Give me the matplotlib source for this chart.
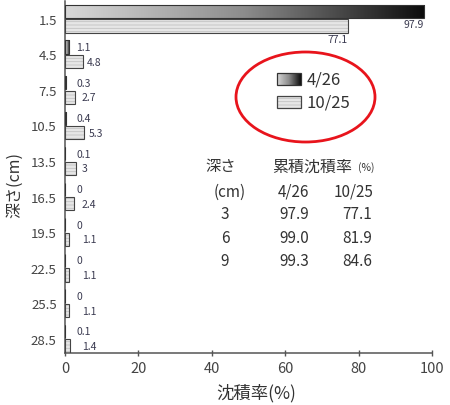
import numpy as np
import matplotlib
matplotlib.use("Agg")
import matplotlib.pyplot as plt
from matplotlib.colors import LinearSegmentedColormap
from matplotlib.patches import Rectangle, Ellipse
from matplotlib import transforms

plt.rcParams['font.family'] = ['Noto Sans CJK JP', 'DejaVu Sans']
plt.rcParams['hatch.linewidth'] = 0.6

# depth classes (cm) and deposition rate (%) per survey date
depths = ['1.5', '4.5', '7.5', '10.5', '13.5', '16.5', '19.5', '22.5', '25.5', '28.5']
rate_apr = [97.9, 1.1, 0.3, 0.4, 0.1, 0, 0, 0, 0, 0.1]
rate_oct = [77.1, 4.8, 2.7, 5.3, 3, 2.4, 1.1, 1.1, 1.1, 1.4]
series_names = ['4/26', '10/25']
x_ticks = [0, 20, 40, 60, 80, 100]

# cumulative deposition table
table_depth = ['3', '6', '9']
cum_apr = ['97.9', '99.0', '99.3']
cum_oct = ['77.1', '81.9', '84.6']

W, H = 450, 406
fig = plt.figure(figsize=(W / 100, H / 100), dpi=100)
ax = fig.add_axes([65 / W, 1 - 354 / H, (432 - 65) / W, (354 - 2) / H])

grad_cmap = LinearSegmentedColormap.from_list('g', ['#d8d8d8', '#8c8c8c', '#0c0c0c'])
grad = np.linspace(0, 1, 256).reshape(1, -1)
txt_col = '#3a3a50'

y = np.arange(len(depths))
bh = 0.37
off = 0.205

# 4/26: gradient bars
bars_a = ax.barh(y - off, rate_apr, height=bh, facecolor='none',
                 edgecolor='#333333', lw=0.8, zorder=3)
for rect, v in zip(bars_a, rate_apr):
    if v <= 0:
        continue
    x0, yb = rect.get_x(), rect.get_y()
    im = ax.imshow(grad, extent=[x0, x0 + rect.get_width(), yb + rect.get_height(), yb],
                   aspect='auto', cmap=grad_cmap, zorder=2, interpolation='bilinear')
    im.set_clip_path(rect)

# 10/25: light striped bars
ax.barh(y + off, rate_oct, height=bh, color='#e6e6e6', edgecolor='#c2c2c2',
        hatch='-----', lw=0, zorder=2)
ax.barh(y + off, rate_oct, height=bh, fill=False, edgecolor='#444444', lw=0.8, zorder=3)

ax.set_xlim(0, 100)
ax.set_ylim(len(depths) - 0.6, -0.5)

# value labels
px = transforms.offset_copy(ax.transData, fig=fig, x=4, y=0, units='dots')
for yi, va_, vb_ in zip(y, rate_apr, rate_oct):
    for v, yy, xmin in ((va_, yi - off, 2.0), (vb_, yi + off, 3.5)):
        s = f"{v:g}"
        if v > 50:
            ax.text(v, yy + bh / 2 + 0.04, s, ha='right', va='top',
                    fontsize=7.5, color=txt_col)
        else:
            ax.text(max(v, xmin), yy, s, ha='left', va='center',
                    fontsize=7.5, color=txt_col, transform=px)

ax.set_yticks(y)
ax.set_yticklabels(depths)
ax.set_xticks(x_ticks)
ax.tick_params(axis='y', length=0, pad=6, labelsize=9.5, labelcolor='#444444')
ax.tick_params(axis='x', direction='inout', length=5, width=1, color='#555555',
               labelsize=10.5, labelcolor='#444444', pad=3)
for s in ('top', 'right'):
    ax.spines[s].set_visible(False)
for s in ('left', 'bottom'):
    ax.spines[s].set_color('#555555')
    ax.spines[s].set_linewidth(1.1)

# overlay in pixel coordinates for legend, table and axis titles
ov = fig.add_axes([0, 0, 1, 1])
ov.set_xlim(0, W)
ov.set_ylim(H, 0)
ov.axis('off')

lg1 = Rectangle((277, 74), 24, 12, facecolor='none', edgecolor='#333333', lw=0.9, zorder=3)
ov.add_patch(lg1)
im = ov.imshow(grad, extent=[277, 301, 86, 74], aspect='auto', cmap=grad_cmap,
               zorder=2, interpolation='bilinear')
im.set_clip_path(lg1)
ov.add_patch(Rectangle((277, 97), 24, 12, facecolor='#e6e6e6', edgecolor='#c2c2c2',
                       hatch='-----', lw=0, zorder=2))
ov.add_patch(Rectangle((277, 97), 24, 12, fill=False, edgecolor='#444444', lw=0.9, zorder=3))
ov.text(307, 80, series_names[0], va='center', ha='left', fontsize=12, color='#333333')
ov.text(307, 103, series_names[1], va='center', ha='left', fontsize=12, color='#333333')
ov.add_patch(Ellipse((305.5, 98), 139, 90, fill=False, edgecolor='#e8141c', lw=2))

tc = '#333333'
fs = 11
ov.text(205, 167, '深さ', ha='left', va='center', fontsize=fs, color=tc)
ov.text(272, 167, '累積沈積率', ha='left', va='center', fontsize=11.5, color=tc)
ov.text(358, 168, '(%)', ha='left', va='center', fontsize=7.5, color=tc)
ov.text(230, 192, '(cm)', ha='center', va='center', fontsize=fs, color=tc)
ov.text(293, 192, series_names[0], ha='center', va='center', fontsize=fs, color=tc)
ov.text(354, 192, series_names[1], ha='center', va='center', fontsize=fs, color=tc)
for i, (d, a, o) in enumerate(zip(table_depth, cum_apr, cum_oct)):
    yy = 215 + i * 23.5
    ov.text(225, yy, d, ha='center', va='center', fontsize=fs, color=tc)
    ov.text(294, yy, a, ha='center', va='center', fontsize=fs, color=tc)
    ov.text(357, yy, o, ha='center', va='center', fontsize=fs, color=tc)

ov.text(15, 185, '深さ(cm)', rotation=90, ha='center', va='center', fontsize=11.5, color=tc)
ov.text(256, 393, '沈積率(%)', ha='center', va='center', fontsize=12.5, color=tc)

fig.savefig('out.png', dpi=100, facecolor='white')
